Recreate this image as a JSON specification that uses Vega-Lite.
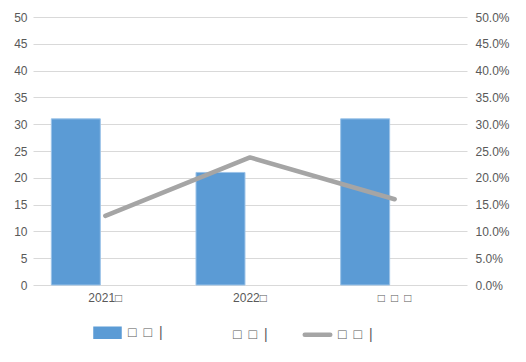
{
  "$schema": "https://vega.github.io/schema/vega-lite/v6.json",
  "autosize": {"type": "none"},
  "width": 434,
  "height": 268,
  "padding": {"left": 33, "top": 17, "right": 59, "bottom": 77},
  "background": "white",
  "config": {
    "view": {"stroke": null},
    "font": "Liberation Sans",
    "axis": {"labelFont": "Liberation Sans", "labelFontSize": 12, "labelColor": "#595959", "ticks": false, "domain": false, "title": null}
  },
  "data": {
    "values": [
      {"category": "2021□", "series": "□\u2002□\u2002|", "value": 31},
      {"category": "2022□", "series": "□\u2002□\u2002|", "value": 21},
      {"category": "□\u2002□\u2002□", "series": "□\u2002□\u2002|", "value": 31},
      {"category": "2021□", "series": "□\u2002□\u2002| ", "value": 0},
      {"category": "2022□", "series": "□\u2002□\u2002| ", "value": 0},
      {"category": "□\u2002□\u2002□", "series": "□\u2002□\u2002| ", "value": 0},
      {"category": "2021□", "series": "□\u2002□\u2002|  ", "value": 0.129},
      {"category": "2022□", "series": "□\u2002□\u2002|  ", "value": 0.238},
      {"category": "□\u2002□\u2002□", "series": "□\u2002□\u2002|  ", "value": 0.160}
    ]
  },
  "encoding": {
    "x": {
      "field": "category", "type": "nominal", "sort": null,
      "scale": {"paddingInner": 0.2535, "paddingOuter": 0.1268},
      "axis": {"labelAngle": 0, "labelPadding": 7, "grid": false}
    },
    "color": {
      "field": "series", "type": "nominal",
      "scale": {"domain": ["□\u2002□\u2002|", "□\u2002□\u2002| ", "□\u2002□\u2002|  "], "range": ["#5b9bd5", "transparent", "#a5a5a5"]},
      "legend": {
        "orient": "none", "legendX": 57, "legendY": 298, "direction": "horizontal",
        "title": null, "labelFont": "Liberation Sans", "labelFontSize": 14, "labelColor": "#595959",
        "symbolSize": 900, "labelOffset": 3, "columnPadding": 27, "padding": 0,
        "encode": {
          "symbols": {
            "update": {
              "shape": {"signal": "datum.index === 0 ? 'M-0.8,-0.27H0.8V0.27H-0.8Z' : 'M-0.85,0H0.85'"},
              "fill": {"signal": "datum.index === 0 ? '#5b9bd5' : 'transparent'"},
              "stroke": {"signal": "datum.index === 2 ? '#a5a5a5' : 'transparent'"},
              "strokeWidth": {"value": 4.5},
              "strokeCap": {"value": "round"},
              "opacity": {"value": 1}
            }
          }
        }
      }
    }
  },
  "layer": [
    {
      "transform": [{"filter": "indexof(['□\u2002□\u2002|', '□\u2002□\u2002| '], datum.series) >= 0"}],
      "mark": {"type": "bar", "strokeWidth": 1},
      "encoding": {
        "xOffset": {"field": "series", "type": "nominal", "scale": {"domain": ["□\u2002□\u2002|", "□\u2002□\u2002| "], "paddingInner": 0.17, "paddingOuter": 0}},
        "y": {
          "field": "value", "type": "quantitative",
          "scale": {"domain": [0, 50], "nice": false},
          "axis": {"values": [0, 5, 10, 15, 20, 25, 30, 35, 40, 45, 50], "gridColor": "#d9d9d9", "labelPadding": 6}
        },
        "stroke": {"condition": {"test": "datum.value === 0", "value": "transparent"}, "value": "#9cc3e8"}
      }
    },
    {
      "transform": [{"filter": "datum.series === '□\u2002□\u2002|  '"}],
      "mark": {"type": "line", "strokeWidth": 4.5, "strokeCap": "round", "strokeJoin": "round"},
      "encoding": {
        "y": {
          "field": "value", "type": "quantitative",
          "scale": {"domain": [0, 0.5], "nice": false},
          "axis": {"orient": "right", "values": [0, 0.05, 0.1, 0.15, 0.2, 0.25, 0.3, 0.35, 0.4, 0.45, 0.5], "format": ".1%", "grid": false, "labelPadding": 8}
        }
      }
    }
  ],
  "resolve": {"scale": {"y": "independent"}}
}
